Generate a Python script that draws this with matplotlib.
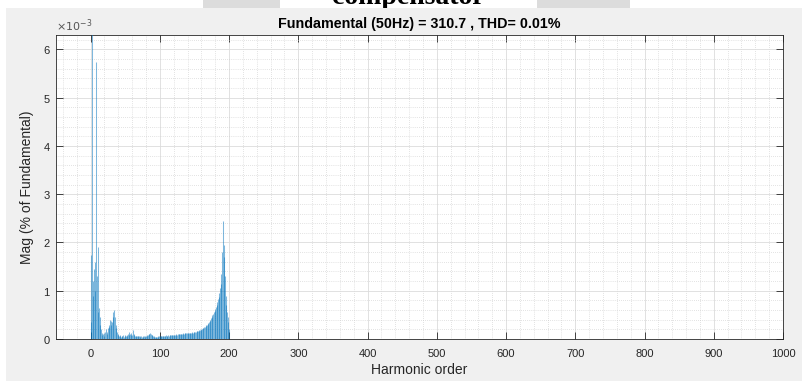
import matplotlib
matplotlib.use('Agg')
import matplotlib.pyplot as plt
import matplotlib.patches as mpatches
from matplotlib.ticker import MultipleLocator, ScalarFormatter
import numpy as np

# harmonic spectrum (values in units of 1e-3 % of fundamental)
harmonic_order = list(range(0, 201))
mag_e3 = [
    0.35, 1.75, 6.5, 1.2, 0.9, 1.45, 1.6, 1.0, 5.75, 1.3,
    1.9, 0.55, 0.65, 0.45, 0.3, 0.2, 0.12, 0.08, 0.1, 0.06,
    0.12, 0.15, 0.2, 0.1, 0.15, 0.22, 0.25, 0.3, 0.4, 0.38,
    0.3, 0.35, 0.45, 0.55, 0.61, 0.45, 0.3, 0.22, 0.15, 0.1,
    0.08, 0.07, 0.06, 0.08, 0.05, 0.07, 0.06, 0.09, 0.05, 0.07,
    0.08, 0.06, 0.09, 0.07, 0.1, 0.15, 0.08, 0.1, 0.09, 0.12,
    0.08, 0.19, 0.1, 0.08, 0.07, 0.06, 0.07, 0.06, 0.07, 0.06,
    0.06, 0.07, 0.05, 0.06, 0.05, 0.06, 0.05, 0.06, 0.05, 0.06,
    0.07, 0.06, 0.08, 0.09, 0.1, 0.11, 0.12, 0.1, 0.09, 0.08,
    0.06, 0.05, 0.06, 0.05, 0.04, 0.05, 0.05, 0.06, 0.05, 0.06,
    0.06, 0.06, 0.07, 0.06, 0.07, 0.07, 0.06, 0.07, 0.07, 0.08,
    0.07, 0.07, 0.08, 0.07, 0.08, 0.08, 0.08, 0.08, 0.09, 0.08,
    0.09, 0.09, 0.09, 0.09, 0.1, 0.09, 0.1, 0.1, 0.1, 0.1,
    0.11, 0.11, 0.11, 0.11, 0.12, 0.11, 0.12, 0.12, 0.12, 0.12,
    0.12, 0.12, 0.12, 0.13, 0.12, 0.13, 0.13, 0.14, 0.13, 0.14,
    0.14, 0.15, 0.15, 0.16, 0.16, 0.17, 0.17, 0.18, 0.19, 0.19,
    0.2, 0.21, 0.22, 0.23, 0.24, 0.25, 0.27, 0.28, 0.3, 0.32,
    0.34, 0.36, 0.38, 0.4, 0.43, 0.46, 0.49, 0.52, 0.55, 0.58,
    0.62, 0.66, 0.7, 0.76, 0.82, 0.88, 0.95, 1.05, 1.15, 1.35,
    1.8, 2.45, 1.95, 1.7, 1.3, 0.9, 0.7, 0.55, 0.45, 0.35,
    0.2,
]

title = 'Fundamental (50Hz) = 310.7 , THD= 0.01%'
xlabel = 'Harmonic order'
ylabel = 'Mag (% of Fundamental)'
header = 'compensator'

W, H = 802, 381
fig = plt.figure(figsize=(W / 100, H / 100), dpi=100, facecolor='white')

# grey matlab figure background
fig.patches.append(mpatches.Rectangle((6 / W, 0), 1 - 6 / W, 1 - 7.5 / H,
                                      transform=fig.transFigure, facecolor='#f0f0f0',
                                      edgecolor='none', zorder=-2))
# faded watermark blobs at the top
for x0, x1 in [(203, 280), (537, 630)]:
    fig.patches.append(mpatches.Rectangle((x0 / W, 1 - 7.5 / H), (x1 - x0) / W, 7.5 / H,
                                          transform=fig.transFigure, facecolor='#dcdcdc',
                                          edgecolor='none', zorder=-2.5))

# header text cut off from the page above (lower part hidden by figure)
fig.text(408 / W, 1 - 4.5 / H, header, ha='center', va='baseline', zorder=-3,
         fontsize=20, fontweight='bold', family='Liberation Serif', color='black')

ax = fig.add_axes([56 / W, 42 / H, 727 / W, 304 / H], zorder=2)
ax.set_facecolor('white')

x = np.array(harmonic_order)
y = np.array(mag_e3) * 1e-3
ax.vlines(x, 0, y, colors='#0072BD', linewidth=0.75, alpha=0.5, zorder=3)

ax.set_xlim(-50, 1000)
ax.set_ylim(0, 6.3e-3)
ax.xaxis.set_major_locator(MultipleLocator(100))
ax.xaxis.set_minor_locator(MultipleLocator(20))
ax.yaxis.set_major_locator(MultipleLocator(1e-3))
ax.yaxis.set_minor_locator(MultipleLocator(0.2e-3))

fmt = ScalarFormatter(useMathText=True)
fmt.set_powerlimits((-3, -3))
ax.yaxis.set_major_formatter(fmt)

ax.grid(which='major', color='#dcdcdc', linewidth=0.6, linestyle='-', zorder=0)
ax.grid(which='minor', color='#c8c8c8', linewidth=0.5, linestyle=(0, (1, 2)), zorder=0)
ax.set_axisbelow(True)

fam = 'Liberation Sans'
ax.tick_params(which='major', direction='in', length=5, width=0.6, color='#262626',
               top=True, right=True, labelsize=8, labelcolor='#262626')
ax.tick_params(axis='x', which='major', pad=7)
ax.tick_params(axis='y', which='major', pad=4)
ax.tick_params(which='minor', length=0, top=True, right=True)
for lab in ax.get_xticklabels() + ax.get_yticklabels():
    lab.set_fontfamily(fam)
ax.yaxis.get_offset_text().set_fontsize(8)
ax.yaxis.get_offset_text().set_color('#555555')

for s in ax.spines.values():
    s.set_color('#262626')
    s.set_linewidth(0.6)

ax.set_xlabel(xlabel, fontsize=10, family=fam, color='#262626', labelpad=3)
ax.set_ylabel(ylabel, fontsize=10, family=fam, color='#262626', labelpad=6)
ax.set_title(title, fontsize=10.3, fontweight='bold', family=fam, pad=5)

fig.savefig('out.png', dpi=100, facecolor=fig.get_facecolor())
